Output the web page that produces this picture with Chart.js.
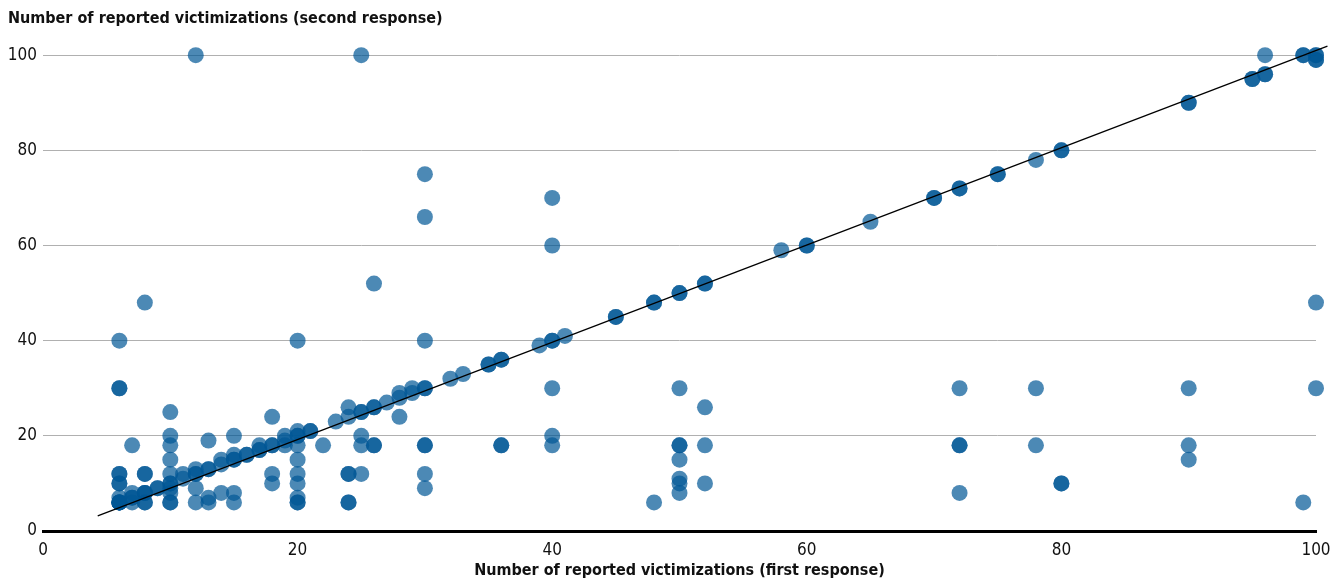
<!DOCTYPE html>
<html>
<head>
<meta charset="utf-8">
<script src="https://cdn.jsdelivr.net/npm/chart.js@4.4.1/dist/chart.umd.min.js"></script>
<style>
  html, body { margin: 0; padding: 0; background: #fff; }
  #wrap { width: 1341px; height: 581px; }
</style>
</head>
<body>
<div id="wrap"><canvas id="scatter"></canvas></div>
<script>
// first response (x) and second response (y)
const firstResp = [
  6,6,6,6,7,7,8,8,9,10,10,11,12,12,13,13,14,15,15,16,16,17,17,18,18,19,20,20,21,21,23,24,25,25,26,26,27,28,29,30,30,
  32,33,35,35,36,36,39,40,40,41,45,45,48,48,50,50,52,52,58,60,60,65,70,70,72,72,75,75,78,80,80,90,90,95,95,96,96,99,99,100,100,
  12,25,96,100,100,30,30,26,40,40,8,6,20,30,100,
  6,6,40,50,72,78,90,100,52,10,18,28,24,
  25,25,26,26,22,30,30,36,36,40,40,50,50,52,72,72,78,90,90,50,50,50,50,52,48,72,80,80,99,
  28,29,24,24,25,24,24,30,30,
  20,20,19,19,17,20,20,20,20,20,20,18,18,
  7,10,10,10,10,13,15,6,6,6,6,6,6,6,8,8,7,8,9,10,10,10,10,7,8,8,11,12,12,12,13,13,14,15,15,14,15
];
const secondResp = [
  6,6,6,6,7,7,8,8,9,10,10,11,12,12,13,13,14,15,15,16,16,17,17,18,18,19,20,20,21,21,23,24,25,25,26,26,27,28,29,30,30,
  32,33,35,35,36,36,39,40,40,41,45,45,48,48,50,50,52,52,59,60,60,65,70,70,72,72,75,75,78,80,80,90,90,95,95,96,96,100,100,100,100,
  100,100,100,99,99,75,66,52,70,60,48,40,40,40,48,
  30,30,30,30,30,30,30,30,26,25,24,24,26,
  20,18,18,18,18,18,18,18,18,20,18,18,18,18,18,18,18,18,15,15,11,10,8,10,6,8,10,10,6,
  29,30,12,12,12,6,6,12,9,
  21,18,20,18,18,15,12,10,7,6,6,12,10,
  18,20,18,15,12,19,20,12,12,10,10,7,6,6,12,12,8,8,9,9,8,6,6,6,6,6,12,13,9,6,7,6,8,8,6,15,16
];
// reference line ends
const lineX = [4.3, 100.9];
const lineY = [3.2, 101.9];
const tickValues = [0, 20, 40, 60, 80, 100];

const fontFam = "'Liberation Sans Narrow', 'DejaVu Sans Condensed', 'Open Sans', sans-serif";

const points = firstResp.map((x, i) => ({ x: x, y: secondResp[i] }));
const linePts = lineX.map((x, i) => ({ x: x, y: lineY[i] }));

new Chart(document.getElementById('scatter'), {
  type: 'scatter',
  data: {
    datasets: [
      {
        type: 'line',
        data: linePts,
        borderColor: '#000',
        borderWidth: 1.3,
        pointRadius: 0,
        fill: false,
        clip: false,
        order: 0
      },
      {
        data: points,
        backgroundColor: 'rgba(0,87,150,0.7)',
        borderWidth: 0,
        pointRadius: 8,
        pointHoverRadius: 8,
        clip: false,
        order: 1
      }
    ]
  },
  options: {
    responsive: true,
    maintainAspectRatio: false,
    animation: false,
    layout: { padding: { left: 8, right: 25, top: 0, bottom: 0 } },
    plugins: {
      legend: { display: false },
      tooltip: { enabled: false },
      title: {
        display: true,
        text: 'Number of reported victimizations (second response)',
        align: 'start',
        color: '#111',
        font: { family: fontFam, size: 16, weight: 'bold' },
        padding: { top: 9, bottom: 27 }
      }
    },
    scales: {
      x: {
        type: 'linear',
        min: 0, max: 100,
        afterBuildTicks: s => { s.ticks = tickValues.map(v => ({ value: v })); },
        grid: { display: false, drawTicks: false },
        border: { display: true, color: '#000', width: 3 },
        ticks: { color: '#111', padding: 9, font: { family: fontFam, size: 17 } },
        title: {
          display: true,
          text: 'Number of reported victimizations (first response)',
          color: '#111',
          font: { family: fontFam, size: 16, weight: 'bold' },
          padding: { top: 0, bottom: 1 }
        },
        afterFit: s => { s.height = 50; }
      },
      y: {
        type: 'linear',
        min: 0, max: 100,
        afterBuildTicks: s => { s.ticks = tickValues.map(v => ({ value: v })); },
        grid: { color: '#b0b0b0', lineWidth: 1, drawTicks: false },
        border: { display: false },
        ticks: { color: '#111', padding: 6, font: { family: fontFam, size: 17 } },
        afterFit: s => { s.width = 35; }
      }
    }
  }
});
</script>
</body>
</html>
